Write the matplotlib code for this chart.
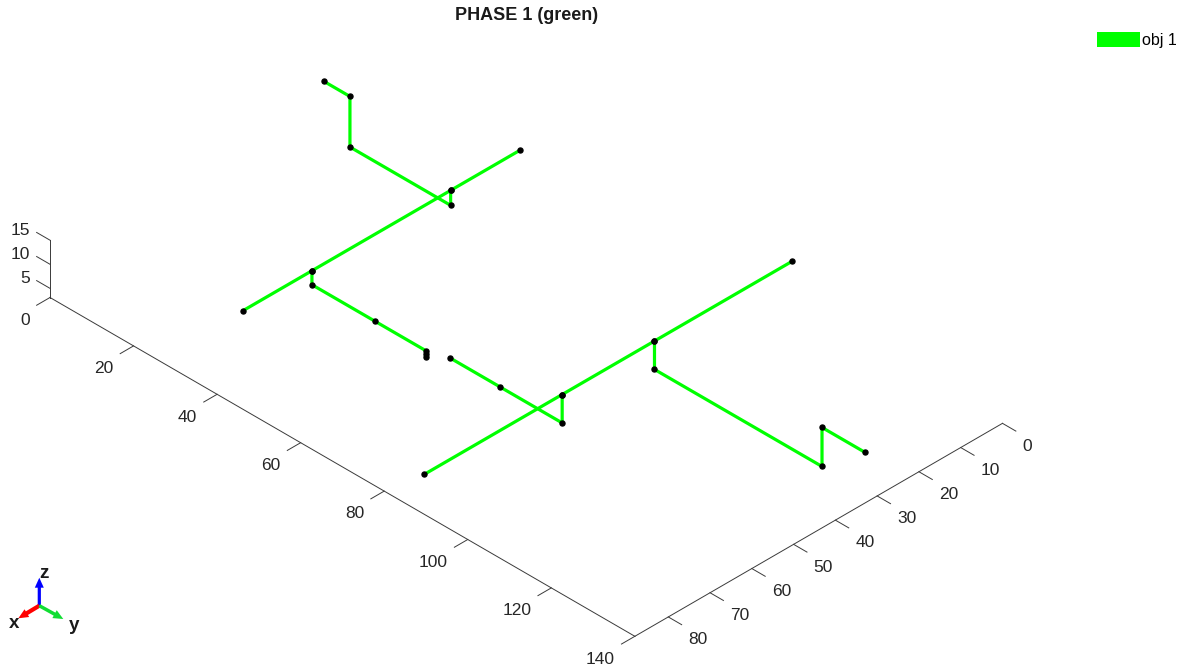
import numpy as np
import matplotlib
matplotlib.use("Agg")
import matplotlib.pyplot as plt
from matplotlib.patches import Patch
from mpl_toolkits.mplot3d import proj3d

plt.rcParams['font.family'] = ['Liberation Sans', 'DejaVu Sans']

# axis ranges and ticks
x_lim = [0, 140]
y_lim = [0, 88]
z_lim = [3.1, 15]
x_ticks = [0, 20, 40, 60, 80, 100, 120, 140]
y_ticks = [0, 10, 20, 30, 40, 50, 60, 70, 80]
z_ticks = [5, 10, 15]

# pipe runs, node coordinates (x, y, z)
run1_x = [0.0, 6.2, 6.2, 30.3, 30.3]
run1_y = [22.4, 22.4, 22.4, 22.4, 22.4]
run1_z = [15.0, 15.0, 4.5, 4.5, 7.6]

run2_x = [30.3, 30.3, 30.3, 30.3]
run2_y = [5.9, 22.4, 55.6, 72.1]
run2_z = [7.6, 7.6, 7.6, 7.6]

run3_x = [30.3, 30.3, 45.4, 57.5, 57.5, 57.5]
run3_y = [55.6, 55.6, 55.6, 55.6, 55.6, 55.6]
run3_z = [7.6, 4.7, 4.7, 4.7, 4.05, 3.4]

run4_x = [62.8, 74.7, 89.6, 89.6]
run4_y = [55.0, 55.0, 55.0, 55.0]
run4_z = [5.5, 5.5, 5.5, 11.4]

run5_x = [89.6, 89.6, 89.6, 89.6]
run5_y = [0.0, 32.9, 55.0, 88.0]
run5_z = [11.4, 11.4, 11.4, 11.4]

run6_x = [89.6, 89.6, 129.7, 129.7, 140.0]
run6_y = [32.9, 32.9, 32.9, 32.9, 32.9]
run6_z = [11.4, 5.5, 5.5, 13.6, 13.6]

runs = [(run1_x, run1_y, run1_z), (run2_x, run2_y, run2_z), (run3_x, run3_y, run3_z),
        (run4_x, run4_y, run4_z), (run5_x, run5_y, run5_z), (run6_x, run6_y, run6_z)]

axis_col = '#3a3a3a'
text_col = '#262626'
green = (0, 1, 0)
W, H = 1183, 666

fig = plt.figure(figsize=(W / 100, H / 100), dpi=100)
ax = fig.add_axes([0, -0.4, 1, 1.8], projection='3d')
ax.set_proj_type('ortho')
ax.view_init(elev=35.4, azim=-45)
ax.set_xlim(*x_lim)
ax.set_ylim(y_lim[1], y_lim[0])
ax.set_zlim(*z_lim)
aspect = (x_lim[1] - x_lim[0], y_lim[1] - y_lim[0], z_lim[1] - z_lim[0])
ax.set_box_aspect(aspect)
ax.set_axis_off()

x0, x1 = x_lim
y0, y1 = y_lim
z0, z1 = z_lim

# hand drawn axes: x along the front-left edge, y along the right edge, z at the left corner
ax.plot([x0, x1], [y1, y1], [z0, z0], color=axis_col, lw=0.7)
ax.plot([x1, x1], [y0, y1], [z0, z0], color=axis_col, lw=0.7)
ax.plot([x0, x0], [y1, y1], [z0, z1], color=axis_col, lw=0.7)

tick = 3.2
for t in x_ticks:
    ax.plot([t, t], [y1, y1 + tick], [z0, z0], color=axis_col, lw=0.7)
for t in y_ticks:
    ax.plot([x1, x1 + tick], [t, t], [z0, z0], color=axis_col, lw=0.7)
for t in z_ticks:
    ax.plot([x0, x0 - tick], [y1, y1], [t, t], color=axis_col, lw=0.7)

# pipes, then the node dots on top
for rx, ry, rz in runs:
    ax.plot(rx, ry, rz, color=green, lw=2.3, solid_capstyle='round')
for rx, ry, rz in runs:
    ax.plot(rx, ry, rz, linestyle='none', marker='o', markersize=3.6,
            color='black')


def to_px(x, y, z):
    px, py, _ = proj3d.proj_transform(x, y, z, ax.get_proj())
    return ax.transData.transform((px, py))


# size the box, then slide it into place
fig.canvas.draw()
a = to_px(x0, y1, z0)
b = to_px(x1, y1, z0)
zoom = 675.9 / np.hypot(*(b - a))
ax.set_box_aspect(aspect, zoom=zoom)
fig.canvas.draw()
a = to_px(x0, y1, z0)
pos = ax.get_position(original=True)
ax.set_position([pos.x0 + (50 - a[0]) / W, pos.y0 + (368.5 - a[1]) / H,
                 pos.width, pos.height])
fig.canvas.draw()


def tick_label(x, y, z, s, ha):
    px, py = to_px(x, y, z)
    fig.text(px / W, (py - 1.5) / H, s, ha=ha, va='center', fontsize=12.5,
             color=text_col)


for t in x_ticks:
    tick_label(t, y1 + 4.8, z0 - 2.0, str(t), 'right')
for t in y_ticks:
    tick_label(x1 + 4.8, t, z0 - 2.0, str(t), 'left')
for t in z_ticks:
    tick_label(x0 - 4.8, y1, t, str(t), 'right')

fig.text(526.5 / W, 1 - 16 / H, 'PHASE 1 (green)', ha='center', va='center',
         fontsize=13, fontweight='bold', color='#1a1a1a')

fig.legend(handles=[Patch(facecolor=green, edgecolor='none', label='obj 1')],
           loc='center left', bbox_to_anchor=(1097 / W, 1 - 40 / H),
           frameon=False, fontsize=11.5, handlelength=2.7, handleheight=1.05,
           handletextpad=0.1, borderpad=0, borderaxespad=0)

# orientation triad in the lower left corner
tri = fig.add_axes([0, 10 / H, 100 / W, 100 / H])
tri.set_xlim(0, 100)
tri.set_ylim(100, 0)
tri.axis('off')
ox, oy = 39.3, 49.7
tri.arrow(ox, oy, 0, -28, width=3.2, head_width=9, head_length=10,
          length_includes_head=True, color='#0000ff', lw=0)
tri.arrow(ox, oy, -21, 12.6, width=4.2, head_width=9, head_length=10,
          length_includes_head=True, color='#ff0000', lw=0)
tri.arrow(ox, oy, 24, 13.3, width=3.5, head_width=9, head_length=10,
          length_includes_head=True, color='#11dd33', lw=0)
tri.text(44, 17.5, 'z', ha='center', va='center', fontsize=13.5,
         fontweight='bold', color='#1a1a1a')
tri.text(14, 67, 'x', ha='center', va='center', fontsize=13.5,
         fontweight='bold', color='#1a1a1a')
tri.text(74, 69, 'y', ha='center', va='center', fontsize=13.5,
         fontweight='bold', color='#1a1a1a')

fig.savefig('out.png', dpi=100)
